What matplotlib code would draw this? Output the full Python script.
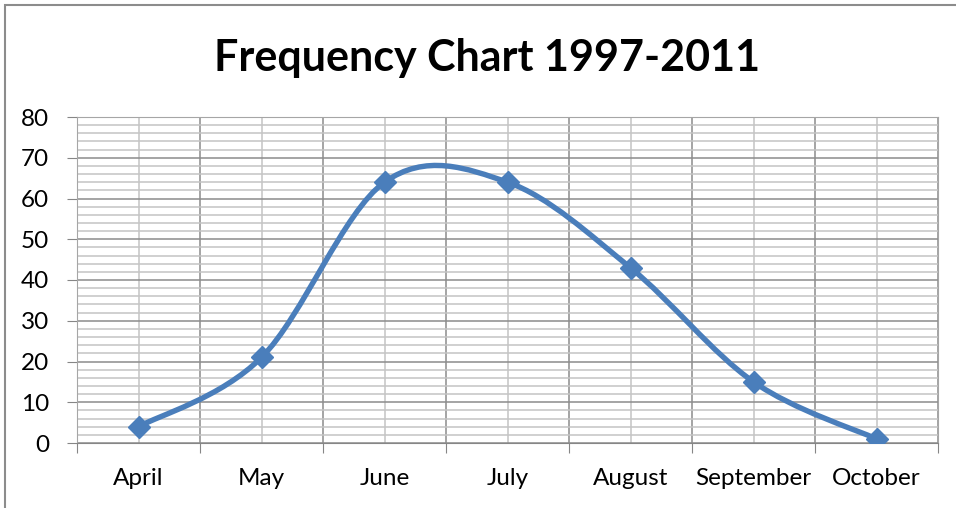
import numpy as np
import matplotlib.pyplot as plt
from matplotlib.path import Path
from matplotlib.patches import PathPatch, Rectangle

months = ["April", "May", "June", "July", "August", "September", "October"]
counts = [4, 21, 64, 64, 43, 15, 1]

line_col = "#4a7ebb"


def smooth_path(xs, ys):
    # Excel style smoothed line: cubic bezier with catmull-rom control points
    pts = np.column_stack([xs, ys]).astype(float)
    ext = np.vstack([pts[0], pts, pts[-1]])
    verts = [pts[0]]
    codes = [Path.MOVETO]
    for i in range(1, len(ext) - 2):
        p0, p1, p2, p3 = ext[i - 1], ext[i], ext[i + 1], ext[i + 2]
        verts += [p1 + (p2 - p0) / 6, p2 - (p3 - p1) / 6, p2]
        codes += [Path.CURVE4] * 3
    return Path(verts, codes)


plt.rcParams["font.family"] = ["Lato", "DejaVu Sans"]
fig = plt.figure(figsize=(9.56, 5.08), dpi=100)
ax = fig.add_axes([77 / 956, 1 - 443 / 508, (938 - 77) / 956, (443 - 117) / 508])

x = np.arange(len(months))
ax.add_patch(PathPatch(smooth_path(x, counts), fill=False, ec=line_col, lw=3.9,
                       capstyle="round", joinstyle="round", zorder=3))
ax.plot(x, counts, ls="none", marker="D", ms=11.5, color=line_col, zorder=4)

ax.set_xlim(-0.5, len(months) - 0.5)
ax.set_ylim(0, 80)
ax.set_xticks(np.arange(-0.5, len(months), 1.0))
ax.set_xticklabels([])
ax.set_xticks(x, minor=True)
ax.set_xticklabels(months, minor=True, fontsize=17.5)
ax.set_yticks(np.arange(0, 81, 10))
ax.set_yticks(np.arange(0, 81, 2), minor=True)
ax.tick_params(axis="y", which="major", labelsize=17.5, length=7, color="#868686", pad=13)
ax.tick_params(axis="x", which="major", length=7, color="#868686")
ax.tick_params(axis="x", which="minor", length=0, pad=18)
ax.tick_params(axis="y", which="minor", length=0)
ax.grid(which="major", color="#8c8c8c", lw=1.1)
ax.grid(which="minor", color="#c4c4c4", lw=1.1)
ax.set_axisbelow(True)
for s in ["top", "right", "left"]:
    ax.spines[s].set_color("#a6a6a6")
ax.spines["bottom"].set_color("#868686")

fig.text(0.509, 0.885, "Frequency Chart 1997-2011", ha="center", va="center",
         fontsize=31, fontweight="bold")

# chart frame
fig.patches.append(Rectangle((5 / 956, -0.01), 1.0, 1 - 5 / 508 + 0.01, transform=fig.transFigure,
                             fill=False, ec="#8c8c8c", lw=1.5))

fig.savefig("out.png", dpi=100)
